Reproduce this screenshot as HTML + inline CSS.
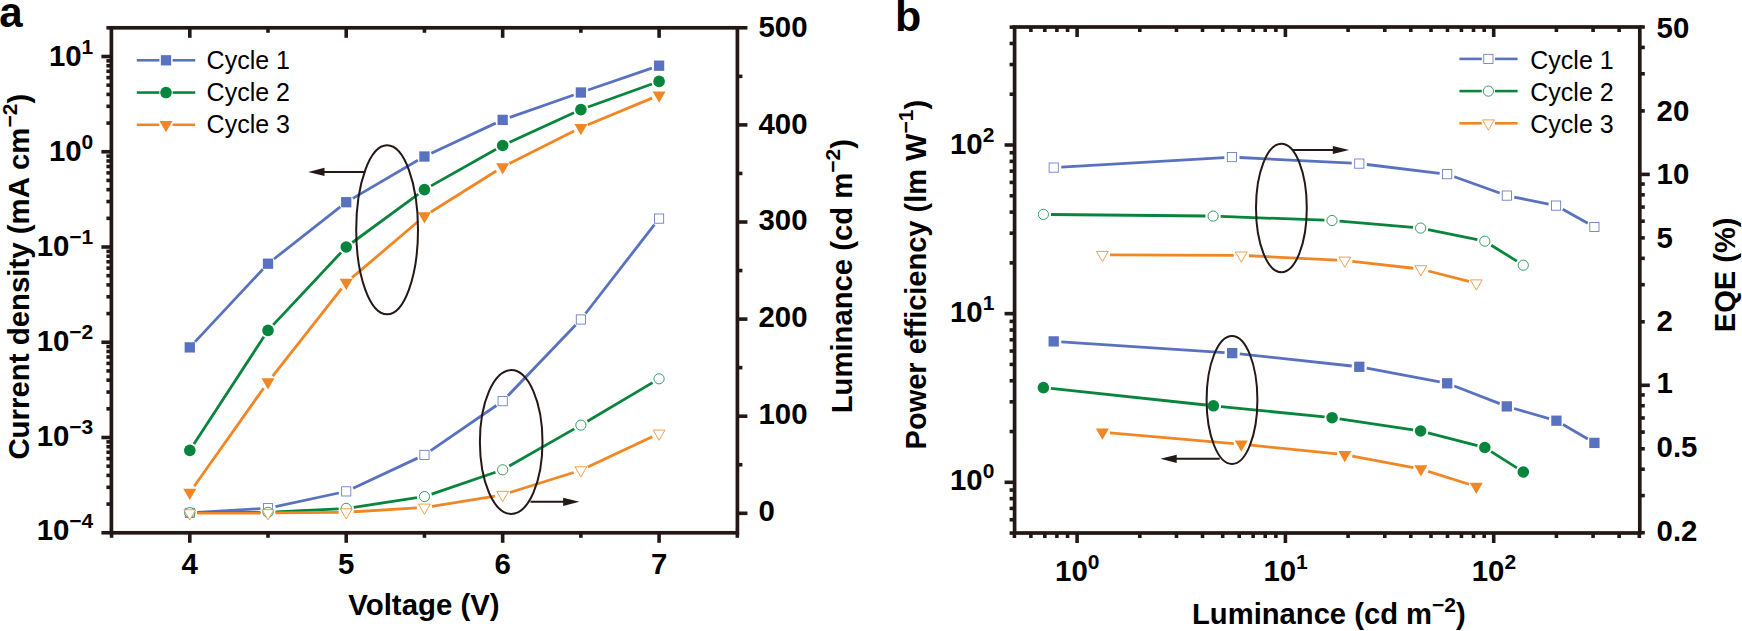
<!DOCTYPE html>
<html lang="en">
<head>
<meta charset="utf-8">
<title>Figure: current density, luminance, power efficiency and EQE over cycles</title>
<style>
html,body{margin:0;padding:0;background:#fff;}
body{width:1742px;height:631px;overflow:hidden;}
svg{display:block;font-family:"Liberation Sans",sans-serif;}
svg text{white-space:pre;}
</style>
</head>
<body>
<svg width="1742" height="631" viewBox="0 0 1742 631">
<rect width="1742" height="631" fill="#fff"/>
<g id="panel-a">
<path d="M194.99 341.85L262.83 269.25M273.99 259L340.26 206.9M352.79 198.37L417.88 160.33M431.33 153.28L495.78 123.12M509.83 117.39L573.7 95.01M588.06 90.04L651.9 68.16" fill="none" stroke="#5972bf" stroke-width="2.8"/>
<rect x="184.65" y="342.25" width="10.3" height="10.3" fill="#5972bf" stroke="none" stroke-width="0"/>
<rect x="262.87" y="258.55" width="10.3" height="10.3" fill="#5972bf" stroke="none" stroke-width="0"/>
<rect x="341.08" y="197.05" width="10.3" height="10.3" fill="#5972bf" stroke="none" stroke-width="0"/>
<rect x="419.3" y="151.35" width="10.3" height="10.3" fill="#5972bf" stroke="none" stroke-width="0"/>
<rect x="497.51" y="114.75" width="10.3" height="10.3" fill="#5972bf" stroke="none" stroke-width="0"/>
<rect x="575.73" y="87.35" width="10.3" height="10.3" fill="#5972bf" stroke="none" stroke-width="0"/>
<rect x="653.94" y="60.55" width="10.3" height="10.3" fill="#5972bf" stroke="none" stroke-width="0"/>
<path d="M197.39 512.44L260.43 508.66M275.45 506.6L338.8 493M353.12 488.19L417.56 458.11M430.71 450.6L496.39 405.5M507.92 395.71L575.62 324.99M585.53 313.49L654.43 224.61" fill="none" stroke="#5972bf" stroke-width="2.8"/>
<rect x="185.2" y="508.3" width="9.2" height="9.2" fill="#fff" stroke="#5972bf" stroke-width="0.8"/>
<rect x="263.41" y="503.6" width="9.2" height="9.2" fill="#fff" stroke="#5972bf" stroke-width="0.8"/>
<rect x="341.63" y="486.8" width="9.2" height="9.2" fill="#fff" stroke="#5972bf" stroke-width="0.8"/>
<rect x="419.85" y="450.3" width="9.2" height="9.2" fill="#fff" stroke="#5972bf" stroke-width="0.8"/>
<rect x="498.06" y="396.6" width="9.2" height="9.2" fill="#fff" stroke="#5972bf" stroke-width="0.8"/>
<rect x="576.27" y="314.9" width="9.2" height="9.2" fill="#fff" stroke="#5972bf" stroke-width="0.8"/>
<rect x="654.49" y="214" width="9.2" height="9.2" fill="#fff" stroke="#5972bf" stroke-width="0.8"/>
<path d="M193.95 444.03L263.87 336.77M273.21 324.86L341.03 252.54M352.36 242.5L418.32 194.1M431.07 185.87L496.04 149.23M509.57 142.33L573.97 112.77M588.02 107.02L651.94 83.98" fill="none" stroke="#08853c" stroke-width="2.8"/>
<circle cx="189.8" cy="450.4" r="5.8" fill="#08853c" stroke="none" stroke-width="0"/>
<circle cx="268.01" cy="330.4" r="5.8" fill="#08853c" stroke="none" stroke-width="0"/>
<circle cx="346.23" cy="247" r="5.8" fill="#08853c" stroke="none" stroke-width="0"/>
<circle cx="424.45" cy="189.6" r="5.8" fill="#08853c" stroke="none" stroke-width="0"/>
<circle cx="502.66" cy="145.5" r="5.8" fill="#08853c" stroke="none" stroke-width="0"/>
<circle cx="580.88" cy="109.6" r="5.8" fill="#08853c" stroke="none" stroke-width="0"/>
<circle cx="659.09" cy="81.4" r="5.8" fill="#08853c" stroke="none" stroke-width="0"/>
<path d="M197.4 512.66L260.42 512.34M275.61 511.92L338.64 508.78M353.74 507.27L416.93 497.73M431.63 494.14L495.47 472.26M509.26 466.03L574.28 428.87M587.42 421.23L652.55 382.67" fill="none" stroke="#08853c" stroke-width="2.8"/>
<circle cx="189.8" cy="512.7" r="5.1" fill="#fff" stroke="#08853c" stroke-width="0.8"/>
<circle cx="268.01" cy="512.3" r="5.1" fill="#fff" stroke="#08853c" stroke-width="0.8"/>
<circle cx="346.23" cy="508.4" r="5.1" fill="#fff" stroke="#08853c" stroke-width="0.8"/>
<circle cx="424.45" cy="496.6" r="5.1" fill="#fff" stroke="#08853c" stroke-width="0.8"/>
<circle cx="502.66" cy="469.8" r="5.1" fill="#fff" stroke="#08853c" stroke-width="0.8"/>
<circle cx="580.88" cy="425.1" r="5.1" fill="#fff" stroke="#08853c" stroke-width="0.8"/>
<circle cx="659.09" cy="378.8" r="5.1" fill="#fff" stroke="#08853c" stroke-width="0.8"/>
<path d="M194.19 486.3L263.62 388.2M272.71 376.03L341.53 288.57M352.02 277.68L418.65 221.02M430.88 212.06L496.22 171.04M509.45 163.59L574.08 131.11M587.89 124.78L652.07 98.12" fill="none" stroke="#f18624" stroke-width="2.8"/>
<polygon points="183.3,488.75 196.3,488.75 189.8,500.01" fill="#f18624" stroke="none" stroke-width="0" stroke-linejoin="miter"/>
<polygon points="261.51,378.25 274.51,378.25 268.01,389.51" fill="#f18624" stroke="none" stroke-width="0" stroke-linejoin="miter"/>
<polygon points="339.73,278.85 352.73,278.85 346.23,290.11" fill="#f18624" stroke="none" stroke-width="0" stroke-linejoin="miter"/>
<polygon points="417.95,212.35 430.95,212.35 424.45,223.61" fill="#f18624" stroke="none" stroke-width="0" stroke-linejoin="miter"/>
<polygon points="496.16,163.25 509.16,163.25 502.66,174.51" fill="#f18624" stroke="none" stroke-width="0" stroke-linejoin="miter"/>
<polygon points="574.38,123.95 587.38,123.95 580.88,135.21" fill="#f18624" stroke="none" stroke-width="0" stroke-linejoin="miter"/>
<polygon points="652.59,91.45 665.59,91.45 659.09,102.71" fill="#f18624" stroke="none" stroke-width="0" stroke-linejoin="miter"/>
<path d="M197.4 513.18L260.42 513.02M275.61 512.92L338.63 512.28M353.82 511.74L416.86 507.96M431.95 506.28L495.16 496.02M509.91 492.52L573.63 472.48M587.76 466.97L652.21 436.73" fill="none" stroke="#f18624" stroke-width="2.8"/>
<polygon points="183.9,509.79 195.7,509.79 189.8,520.01" fill="#fff" stroke="#f18624" stroke-width="0.8" stroke-linejoin="miter"/>
<polygon points="262.12,509.59 273.91,509.59 268.01,519.81" fill="#fff" stroke="#f18624" stroke-width="0.8" stroke-linejoin="miter"/>
<polygon points="340.33,508.79 352.13,508.79 346.23,519.01" fill="#fff" stroke="#f18624" stroke-width="0.8" stroke-linejoin="miter"/>
<polygon points="418.55,504.09 430.35,504.09 424.45,514.31" fill="#fff" stroke="#f18624" stroke-width="0.8" stroke-linejoin="miter"/>
<polygon points="496.76,491.39 508.56,491.39 502.66,501.61" fill="#fff" stroke="#f18624" stroke-width="0.8" stroke-linejoin="miter"/>
<polygon points="574.98,466.79 586.77,466.79 580.88,477.01" fill="#fff" stroke="#f18624" stroke-width="0.8" stroke-linejoin="miter"/>
<polygon points="653.19,430.09 664.99,430.09 659.09,440.31" fill="#fff" stroke="#f18624" stroke-width="0.8" stroke-linejoin="miter"/>
<ellipse cx="387.1" cy="229.8" rx="30.9" ry="84.5" fill="none" stroke="#231815" stroke-width="2"/>
<line x1="365" y1="171.9" x2="323.5" y2="171.9" stroke="#231815" stroke-width="2" stroke-linecap="butt"/>
<polygon points="308.2,171.9 324.5,167.8 324.5,176" fill="#231815"/>
<ellipse cx="511.2" cy="442" rx="31.3" ry="71.9" fill="none" stroke="#231815" stroke-width="2"/>
<line x1="530.5" y1="501.8" x2="564.1" y2="501.8" stroke="#231815" stroke-width="2" stroke-linecap="butt"/>
<polygon points="579.4,501.8 563.1,497.7 563.1,505.9" fill="#231815"/>
<rect x="111.4" y="27.8" width="626" height="505" fill="none" stroke="#231815" stroke-width="3.7"/>
<line x1="111.59" y1="532.8" x2="111.59" y2="537.8" stroke="#231815" stroke-width="3.6" stroke-linecap="butt"/>
<line x1="189.8" y1="532.8" x2="189.8" y2="542.8" stroke="#231815" stroke-width="3.6" stroke-linecap="butt"/>
<line x1="189.8" y1="27.8" x2="189.8" y2="37.8" stroke="#231815" stroke-width="3.6" stroke-linecap="butt"/>
<line x1="268.01" y1="532.8" x2="268.01" y2="537.8" stroke="#231815" stroke-width="3.6" stroke-linecap="butt"/>
<line x1="268.01" y1="27.8" x2="268.01" y2="32.8" stroke="#231815" stroke-width="3.6" stroke-linecap="butt"/>
<line x1="346.23" y1="532.8" x2="346.23" y2="542.8" stroke="#231815" stroke-width="3.6" stroke-linecap="butt"/>
<line x1="346.23" y1="27.8" x2="346.23" y2="37.8" stroke="#231815" stroke-width="3.6" stroke-linecap="butt"/>
<line x1="424.45" y1="532.8" x2="424.45" y2="537.8" stroke="#231815" stroke-width="3.6" stroke-linecap="butt"/>
<line x1="424.45" y1="27.8" x2="424.45" y2="32.8" stroke="#231815" stroke-width="3.6" stroke-linecap="butt"/>
<line x1="502.66" y1="532.8" x2="502.66" y2="542.8" stroke="#231815" stroke-width="3.6" stroke-linecap="butt"/>
<line x1="502.66" y1="27.8" x2="502.66" y2="37.8" stroke="#231815" stroke-width="3.6" stroke-linecap="butt"/>
<line x1="580.88" y1="532.8" x2="580.88" y2="537.8" stroke="#231815" stroke-width="3.6" stroke-linecap="butt"/>
<line x1="580.88" y1="27.8" x2="580.88" y2="32.8" stroke="#231815" stroke-width="3.6" stroke-linecap="butt"/>
<line x1="659.09" y1="532.8" x2="659.09" y2="542.8" stroke="#231815" stroke-width="3.6" stroke-linecap="butt"/>
<line x1="659.09" y1="27.8" x2="659.09" y2="37.8" stroke="#231815" stroke-width="3.6" stroke-linecap="butt"/>
<line x1="737.31" y1="532.8" x2="737.31" y2="537.8" stroke="#231815" stroke-width="3.6" stroke-linecap="butt"/>
<line x1="111.4" y1="532.75" x2="101.4" y2="532.75" stroke="#231815" stroke-width="3.6" stroke-linecap="butt"/>
<line x1="111.4" y1="504.08" x2="106.4" y2="504.08" stroke="#231815" stroke-width="3.6" stroke-linecap="butt"/>
<line x1="111.4" y1="487.3" x2="106.4" y2="487.3" stroke="#231815" stroke-width="3.6" stroke-linecap="butt"/>
<line x1="111.4" y1="475.4" x2="106.4" y2="475.4" stroke="#231815" stroke-width="3.6" stroke-linecap="butt"/>
<line x1="111.4" y1="466.17" x2="106.4" y2="466.17" stroke="#231815" stroke-width="3.6" stroke-linecap="butt"/>
<line x1="111.4" y1="458.63" x2="106.4" y2="458.63" stroke="#231815" stroke-width="3.6" stroke-linecap="butt"/>
<line x1="111.4" y1="452.25" x2="106.4" y2="452.25" stroke="#231815" stroke-width="3.6" stroke-linecap="butt"/>
<line x1="111.4" y1="446.73" x2="106.4" y2="446.73" stroke="#231815" stroke-width="3.6" stroke-linecap="butt"/>
<line x1="111.4" y1="441.86" x2="106.4" y2="441.86" stroke="#231815" stroke-width="3.6" stroke-linecap="butt"/>
<line x1="111.4" y1="437.5" x2="101.4" y2="437.5" stroke="#231815" stroke-width="3.6" stroke-linecap="butt"/>
<line x1="111.4" y1="408.83" x2="106.4" y2="408.83" stroke="#231815" stroke-width="3.6" stroke-linecap="butt"/>
<line x1="111.4" y1="392.05" x2="106.4" y2="392.05" stroke="#231815" stroke-width="3.6" stroke-linecap="butt"/>
<line x1="111.4" y1="380.15" x2="106.4" y2="380.15" stroke="#231815" stroke-width="3.6" stroke-linecap="butt"/>
<line x1="111.4" y1="370.92" x2="106.4" y2="370.92" stroke="#231815" stroke-width="3.6" stroke-linecap="butt"/>
<line x1="111.4" y1="363.38" x2="106.4" y2="363.38" stroke="#231815" stroke-width="3.6" stroke-linecap="butt"/>
<line x1="111.4" y1="357" x2="106.4" y2="357" stroke="#231815" stroke-width="3.6" stroke-linecap="butt"/>
<line x1="111.4" y1="351.48" x2="106.4" y2="351.48" stroke="#231815" stroke-width="3.6" stroke-linecap="butt"/>
<line x1="111.4" y1="346.61" x2="106.4" y2="346.61" stroke="#231815" stroke-width="3.6" stroke-linecap="butt"/>
<line x1="111.4" y1="342.25" x2="101.4" y2="342.25" stroke="#231815" stroke-width="3.6" stroke-linecap="butt"/>
<line x1="111.4" y1="313.58" x2="106.4" y2="313.58" stroke="#231815" stroke-width="3.6" stroke-linecap="butt"/>
<line x1="111.4" y1="296.8" x2="106.4" y2="296.8" stroke="#231815" stroke-width="3.6" stroke-linecap="butt"/>
<line x1="111.4" y1="284.9" x2="106.4" y2="284.9" stroke="#231815" stroke-width="3.6" stroke-linecap="butt"/>
<line x1="111.4" y1="275.67" x2="106.4" y2="275.67" stroke="#231815" stroke-width="3.6" stroke-linecap="butt"/>
<line x1="111.4" y1="268.13" x2="106.4" y2="268.13" stroke="#231815" stroke-width="3.6" stroke-linecap="butt"/>
<line x1="111.4" y1="261.75" x2="106.4" y2="261.75" stroke="#231815" stroke-width="3.6" stroke-linecap="butt"/>
<line x1="111.4" y1="256.23" x2="106.4" y2="256.23" stroke="#231815" stroke-width="3.6" stroke-linecap="butt"/>
<line x1="111.4" y1="251.36" x2="106.4" y2="251.36" stroke="#231815" stroke-width="3.6" stroke-linecap="butt"/>
<line x1="111.4" y1="247" x2="101.4" y2="247" stroke="#231815" stroke-width="3.6" stroke-linecap="butt"/>
<line x1="111.4" y1="218.33" x2="106.4" y2="218.33" stroke="#231815" stroke-width="3.6" stroke-linecap="butt"/>
<line x1="111.4" y1="201.55" x2="106.4" y2="201.55" stroke="#231815" stroke-width="3.6" stroke-linecap="butt"/>
<line x1="111.4" y1="189.65" x2="106.4" y2="189.65" stroke="#231815" stroke-width="3.6" stroke-linecap="butt"/>
<line x1="111.4" y1="180.42" x2="106.4" y2="180.42" stroke="#231815" stroke-width="3.6" stroke-linecap="butt"/>
<line x1="111.4" y1="172.88" x2="106.4" y2="172.88" stroke="#231815" stroke-width="3.6" stroke-linecap="butt"/>
<line x1="111.4" y1="166.5" x2="106.4" y2="166.5" stroke="#231815" stroke-width="3.6" stroke-linecap="butt"/>
<line x1="111.4" y1="160.98" x2="106.4" y2="160.98" stroke="#231815" stroke-width="3.6" stroke-linecap="butt"/>
<line x1="111.4" y1="156.11" x2="106.4" y2="156.11" stroke="#231815" stroke-width="3.6" stroke-linecap="butt"/>
<line x1="111.4" y1="151.75" x2="101.4" y2="151.75" stroke="#231815" stroke-width="3.6" stroke-linecap="butt"/>
<line x1="111.4" y1="123.08" x2="106.4" y2="123.08" stroke="#231815" stroke-width="3.6" stroke-linecap="butt"/>
<line x1="111.4" y1="106.3" x2="106.4" y2="106.3" stroke="#231815" stroke-width="3.6" stroke-linecap="butt"/>
<line x1="111.4" y1="94.4" x2="106.4" y2="94.4" stroke="#231815" stroke-width="3.6" stroke-linecap="butt"/>
<line x1="111.4" y1="85.17" x2="106.4" y2="85.17" stroke="#231815" stroke-width="3.6" stroke-linecap="butt"/>
<line x1="111.4" y1="77.63" x2="106.4" y2="77.63" stroke="#231815" stroke-width="3.6" stroke-linecap="butt"/>
<line x1="111.4" y1="71.25" x2="106.4" y2="71.25" stroke="#231815" stroke-width="3.6" stroke-linecap="butt"/>
<line x1="111.4" y1="65.73" x2="106.4" y2="65.73" stroke="#231815" stroke-width="3.6" stroke-linecap="butt"/>
<line x1="111.4" y1="60.86" x2="106.4" y2="60.86" stroke="#231815" stroke-width="3.6" stroke-linecap="butt"/>
<line x1="111.4" y1="56.5" x2="101.4" y2="56.5" stroke="#231815" stroke-width="3.6" stroke-linecap="butt"/>
<line x1="111.4" y1="27.83" x2="106.4" y2="27.83" stroke="#231815" stroke-width="3.6" stroke-linecap="butt"/>
<line x1="737.4" y1="513.3" x2="747.4" y2="513.3" stroke="#231815" stroke-width="3.6" stroke-linecap="butt"/>
<line x1="737.4" y1="464.75" x2="742.4" y2="464.75" stroke="#231815" stroke-width="3.6" stroke-linecap="butt"/>
<line x1="737.4" y1="416.2" x2="747.4" y2="416.2" stroke="#231815" stroke-width="3.6" stroke-linecap="butt"/>
<line x1="737.4" y1="367.65" x2="742.4" y2="367.65" stroke="#231815" stroke-width="3.6" stroke-linecap="butt"/>
<line x1="737.4" y1="319.1" x2="747.4" y2="319.1" stroke="#231815" stroke-width="3.6" stroke-linecap="butt"/>
<line x1="737.4" y1="270.55" x2="742.4" y2="270.55" stroke="#231815" stroke-width="3.6" stroke-linecap="butt"/>
<line x1="737.4" y1="222" x2="747.4" y2="222" stroke="#231815" stroke-width="3.6" stroke-linecap="butt"/>
<line x1="737.4" y1="173.45" x2="742.4" y2="173.45" stroke="#231815" stroke-width="3.6" stroke-linecap="butt"/>
<line x1="737.4" y1="124.9" x2="747.4" y2="124.9" stroke="#231815" stroke-width="3.6" stroke-linecap="butt"/>
<line x1="737.4" y1="76.35" x2="742.4" y2="76.35" stroke="#231815" stroke-width="3.6" stroke-linecap="butt"/>
<line x1="737.4" y1="27.8" x2="747.4" y2="27.8" stroke="#231815" stroke-width="3.6" stroke-linecap="butt"/>
<text x="93.3" y="540.4" font-size="29.4" text-anchor="end" font-weight="bold" fill="#000">10<tspan font-size="21.0" dy="-12">−4</tspan></text>
<text x="93.3" y="445.5" font-size="29.4" text-anchor="end" font-weight="bold" fill="#000">10<tspan font-size="21.0" dy="-12">−3</tspan></text>
<text x="93.3" y="350.6" font-size="29.4" text-anchor="end" font-weight="bold" fill="#000">10<tspan font-size="21.0" dy="-12">−2</tspan></text>
<text x="93.3" y="255.7" font-size="29.4" text-anchor="end" font-weight="bold" fill="#000">10<tspan font-size="21.0" dy="-12">−1</tspan></text>
<text x="93.3" y="160.8" font-size="29.4" text-anchor="end" font-weight="bold" fill="#000">10<tspan font-size="21.0" dy="-12">0</tspan></text>
<text x="93.3" y="65.9" font-size="29.4" text-anchor="end" font-weight="bold" fill="#000">10<tspan font-size="21.0" dy="-12">1</tspan></text>
<text x="189.8" y="574.1" font-size="29.4" text-anchor="middle" font-weight="bold" fill="#000">4</text>
<text x="346.23" y="574.1" font-size="29.4" text-anchor="middle" font-weight="bold" fill="#000">5</text>
<text x="502.66" y="574.1" font-size="29.4" text-anchor="middle" font-weight="bold" fill="#000">6</text>
<text x="659.09" y="574.1" font-size="29.4" text-anchor="middle" font-weight="bold" fill="#000">7</text>
<text x="758.5" y="520.5" font-size="29.4" text-anchor="start" font-weight="bold" fill="#000">0</text>
<text x="758.5" y="423.76" font-size="29.4" text-anchor="start" font-weight="bold" fill="#000">100</text>
<text x="758.5" y="327.02" font-size="29.4" text-anchor="start" font-weight="bold" fill="#000">200</text>
<text x="758.5" y="230.28" font-size="29.4" text-anchor="start" font-weight="bold" fill="#000">300</text>
<text x="758.5" y="133.54" font-size="29.4" text-anchor="start" font-weight="bold" fill="#000">400</text>
<text x="758.5" y="36.8" font-size="29.4" text-anchor="start" font-weight="bold" fill="#000">500</text>
<text x="424" y="615" font-size="29.4" text-anchor="middle" font-weight="bold" fill="#000">Voltage (V)</text>
<text x="29.3" y="276.7" font-size="29.4" text-anchor="middle" font-weight="bold" transform="rotate(-90 29.3 276.7)" fill="#000">Current density (mA cm<tspan font-size="21.0" dy="-12.4">−2</tspan><tspan dy="12.4">)</tspan></text>
<text x="852" y="276.2" font-size="29.25" text-anchor="middle" font-weight="bold" transform="rotate(-90 852 276.2)" fill="#000">Luminance (cd m<tspan font-size="21.0" dy="-12.4">−2</tspan><tspan dy="12.4">)</tspan></text>
<line x1="136.8" y1="60.3" x2="159.4" y2="60.3" stroke="#5972bf" stroke-width="2.6" stroke-linecap="butt"/>
<line x1="172.6" y1="60.3" x2="195.2" y2="60.3" stroke="#5972bf" stroke-width="2.6" stroke-linecap="butt"/>
<rect x="160.85" y="55.15" width="10.3" height="10.3" fill="#5972bf" stroke="none" stroke-width="0"/>
<text x="206.6" y="69.1" font-size="25" text-anchor="start" fill="#000">Cycle 1</text>
<line x1="136.8" y1="92.55" x2="159.4" y2="92.55" stroke="#08853c" stroke-width="2.6" stroke-linecap="butt"/>
<line x1="172.6" y1="92.55" x2="195.2" y2="92.55" stroke="#08853c" stroke-width="2.6" stroke-linecap="butt"/>
<circle cx="166" cy="92.55" r="5.8" fill="#08853c" stroke="none" stroke-width="0"/>
<text x="206.6" y="101.15" font-size="25" text-anchor="start" fill="#000">Cycle 2</text>
<line x1="136.8" y1="124.8" x2="159.4" y2="124.8" stroke="#f18624" stroke-width="2.6" stroke-linecap="butt"/>
<line x1="172.6" y1="124.8" x2="195.2" y2="124.8" stroke="#f18624" stroke-width="2.6" stroke-linecap="butt"/>
<polygon points="159.5,121.05 172.5,121.05 166,132.31" fill="#f18624" stroke="none" stroke-width="0" stroke-linejoin="miter"/>
<text x="206.6" y="133.2" font-size="25" text-anchor="start" fill="#000">Cycle 3</text>
<text x="-0.7" y="27.3" font-size="42" text-anchor="start" font-weight="bold" fill="#000">a</text>
</g>
<g id="panel-b">
<path d="M1061.29 167.15L1224.31 157.55M1239.49 157.49L1351.71 163.21M1366.85 164.51L1439.65 173.29M1454.35 176.77L1499.65 193.03M1514.25 197.11L1548.65 204.09M1562.73 209.31L1587.77 223.29" fill="none" stroke="#5972bf" stroke-width="2.8"/>
<rect x="1049.1" y="163" width="9.2" height="9.2" fill="#fff" stroke="#5972bf" stroke-width="0.8"/>
<rect x="1227.3" y="152.5" width="9.2" height="9.2" fill="#fff" stroke="#5972bf" stroke-width="0.8"/>
<rect x="1354.7" y="159" width="9.2" height="9.2" fill="#fff" stroke="#5972bf" stroke-width="0.8"/>
<rect x="1442.6" y="169.6" width="9.2" height="9.2" fill="#fff" stroke="#5972bf" stroke-width="0.8"/>
<rect x="1502.2" y="191" width="9.2" height="9.2" fill="#fff" stroke="#5972bf" stroke-width="0.8"/>
<rect x="1551.5" y="201" width="9.2" height="9.2" fill="#fff" stroke="#5972bf" stroke-width="0.8"/>
<rect x="1589.8" y="222.4" width="9.2" height="9.2" fill="#fff" stroke="#5972bf" stroke-width="0.8"/>
<path d="M1061.28 341.9L1224.62 352.6M1239.76 353.91L1351.74 365.99M1366.77 368.2L1439.73 381.9M1454.29 386.05L1499.71 403.65M1514.1 408.51L1549.1 418.59M1562.96 424.53L1587.84 439.07" fill="none" stroke="#5972bf" stroke-width="2.8"/>
<rect x="1048.55" y="336.25" width="10.3" height="10.3" fill="#5972bf" stroke="none" stroke-width="0"/>
<rect x="1227.05" y="347.95" width="10.3" height="10.3" fill="#5972bf" stroke="none" stroke-width="0"/>
<rect x="1354.15" y="361.65" width="10.3" height="10.3" fill="#5972bf" stroke="none" stroke-width="0"/>
<rect x="1442.05" y="378.15" width="10.3" height="10.3" fill="#5972bf" stroke="none" stroke-width="0"/>
<rect x="1501.65" y="401.25" width="10.3" height="10.3" fill="#5972bf" stroke="none" stroke-width="0"/>
<rect x="1551.25" y="415.55" width="10.3" height="10.3" fill="#5972bf" stroke="none" stroke-width="0"/>
<rect x="1589.25" y="437.75" width="10.3" height="10.3" fill="#5972bf" stroke="none" stroke-width="0"/>
<path d="M1051 214.48L1205.5 216.02M1220.69 216.38L1324.41 220.22M1339.57 221.15L1413.03 227.45M1428.05 229.62L1477.35 239.68M1491.25 245.22L1516.85 261.18" fill="none" stroke="#08853c" stroke-width="2.8"/>
<circle cx="1043.4" cy="214.4" r="5.1" fill="#fff" stroke="#08853c" stroke-width="0.8"/>
<circle cx="1213.1" cy="216.1" r="5.1" fill="#fff" stroke="#08853c" stroke-width="0.8"/>
<circle cx="1332" cy="220.5" r="5.1" fill="#fff" stroke="#08853c" stroke-width="0.8"/>
<circle cx="1420.6" cy="228.1" r="5.1" fill="#fff" stroke="#08853c" stroke-width="0.8"/>
<circle cx="1484.8" cy="241.2" r="5.1" fill="#fff" stroke="#08853c" stroke-width="0.8"/>
<circle cx="1523.3" cy="265.2" r="5.1" fill="#fff" stroke="#08853c" stroke-width="0.8"/>
<path d="M1050.96 388.41L1205.84 404.99M1220.96 406.56L1324.54 416.94M1339.62 418.83L1413.08 429.87M1427.96 432.89L1477.44 445.61M1491.21 451.58L1516.89 467.92" fill="none" stroke="#08853c" stroke-width="2.8"/>
<circle cx="1043.4" cy="387.6" r="5.8" fill="#08853c" stroke="none" stroke-width="0"/>
<circle cx="1213.4" cy="405.8" r="5.8" fill="#08853c" stroke="none" stroke-width="0"/>
<circle cx="1332.1" cy="417.7" r="5.8" fill="#08853c" stroke="none" stroke-width="0"/>
<circle cx="1420.6" cy="431" r="5.8" fill="#08853c" stroke="none" stroke-width="0"/>
<circle cx="1484.8" cy="447.5" r="5.8" fill="#08853c" stroke="none" stroke-width="0"/>
<circle cx="1523.3" cy="472" r="5.8" fill="#08853c" stroke="none" stroke-width="0"/>
<path d="M1110 254.83L1233.7 255.37M1248.89 255.77L1337.21 260.13M1352.35 261.35L1413.35 268.25M1428.26 270.99L1468.94 281.41" fill="none" stroke="#f18624" stroke-width="2.8"/>
<polygon points="1096.5,251.39 1108.3,251.39 1102.4,261.61" fill="#fff" stroke="#f18624" stroke-width="0.8" stroke-linejoin="miter"/>
<polygon points="1235.4,251.99 1247.2,251.99 1241.3,262.21" fill="#fff" stroke="#f18624" stroke-width="0.8" stroke-linejoin="miter"/>
<polygon points="1338.9,257.09 1350.7,257.09 1344.8,267.31" fill="#fff" stroke="#f18624" stroke-width="0.8" stroke-linejoin="miter"/>
<polygon points="1415,265.69 1426.8,265.69 1420.9,275.91" fill="#fff" stroke="#f18624" stroke-width="0.8" stroke-linejoin="miter"/>
<polygon points="1470.4,279.89 1482.2,279.89 1476.3,290.11" fill="#fff" stroke="#f18624" stroke-width="0.8" stroke-linejoin="miter"/>
<path d="M1109.97 432.85L1233.73 443.55M1248.86 444.97L1337.24 453.93M1352.27 456.1L1413.43 467.6M1428.15 471.29L1469.05 484.21" fill="none" stroke="#f18624" stroke-width="2.8"/>
<polygon points="1095.9,428.45 1108.9,428.45 1102.4,439.71" fill="#f18624" stroke="none" stroke-width="0" stroke-linejoin="miter"/>
<polygon points="1234.8,440.45 1247.8,440.45 1241.3,451.71" fill="#f18624" stroke="none" stroke-width="0" stroke-linejoin="miter"/>
<polygon points="1338.3,450.95 1351.3,450.95 1344.8,462.21" fill="#f18624" stroke="none" stroke-width="0" stroke-linejoin="miter"/>
<polygon points="1414.4,465.25 1427.4,465.25 1420.9,476.51" fill="#f18624" stroke="none" stroke-width="0" stroke-linejoin="miter"/>
<polygon points="1469.8,482.75 1482.8,482.75 1476.3,494.01" fill="#f18624" stroke="none" stroke-width="0" stroke-linejoin="miter"/>
<ellipse cx="1281.4" cy="208" rx="25.4" ry="64.2" fill="none" stroke="#231815" stroke-width="2"/>
<line x1="1293" y1="150" x2="1333.8" y2="150" stroke="#231815" stroke-width="2" stroke-linecap="butt"/>
<polygon points="1349.1,150 1332.8,145.9 1332.8,154.1" fill="#231815"/>
<ellipse cx="1232" cy="400" rx="25.4" ry="64" fill="none" stroke="#231815" stroke-width="2"/>
<line x1="1219.7" y1="458.8" x2="1175.7" y2="458.8" stroke="#231815" stroke-width="2" stroke-linecap="butt"/>
<polygon points="1160.4,458.8 1176.7,454.7 1176.7,462.9" fill="#231815"/>
<rect x="1014.6" y="27" width="625.2" height="506" fill="none" stroke="#231815" stroke-width="3.7"/>
<line x1="1014.4" y1="533" x2="1014.4" y2="538" stroke="#231815" stroke-width="3.6" stroke-linecap="butt"/>
<line x1="1030.89" y1="533" x2="1030.89" y2="538" stroke="#231815" stroke-width="3.6" stroke-linecap="butt"/>
<line x1="1030.89" y1="27" x2="1030.89" y2="32" stroke="#231815" stroke-width="3.6" stroke-linecap="butt"/>
<line x1="1044.83" y1="533" x2="1044.83" y2="538" stroke="#231815" stroke-width="3.6" stroke-linecap="butt"/>
<line x1="1044.83" y1="27" x2="1044.83" y2="32" stroke="#231815" stroke-width="3.6" stroke-linecap="butt"/>
<line x1="1056.91" y1="533" x2="1056.91" y2="538" stroke="#231815" stroke-width="3.6" stroke-linecap="butt"/>
<line x1="1056.91" y1="27" x2="1056.91" y2="32" stroke="#231815" stroke-width="3.6" stroke-linecap="butt"/>
<line x1="1067.57" y1="533" x2="1067.57" y2="538" stroke="#231815" stroke-width="3.6" stroke-linecap="butt"/>
<line x1="1067.57" y1="27" x2="1067.57" y2="32" stroke="#231815" stroke-width="3.6" stroke-linecap="butt"/>
<line x1="1077.1" y1="533" x2="1077.1" y2="543" stroke="#231815" stroke-width="3.6" stroke-linecap="butt"/>
<line x1="1077.1" y1="27" x2="1077.1" y2="37" stroke="#231815" stroke-width="3.6" stroke-linecap="butt"/>
<line x1="1139.8" y1="533" x2="1139.8" y2="538" stroke="#231815" stroke-width="3.6" stroke-linecap="butt"/>
<line x1="1139.8" y1="27" x2="1139.8" y2="32" stroke="#231815" stroke-width="3.6" stroke-linecap="butt"/>
<line x1="1176.48" y1="533" x2="1176.48" y2="538" stroke="#231815" stroke-width="3.6" stroke-linecap="butt"/>
<line x1="1176.48" y1="27" x2="1176.48" y2="32" stroke="#231815" stroke-width="3.6" stroke-linecap="butt"/>
<line x1="1202.51" y1="533" x2="1202.51" y2="538" stroke="#231815" stroke-width="3.6" stroke-linecap="butt"/>
<line x1="1202.51" y1="27" x2="1202.51" y2="32" stroke="#231815" stroke-width="3.6" stroke-linecap="butt"/>
<line x1="1222.7" y1="533" x2="1222.7" y2="538" stroke="#231815" stroke-width="3.6" stroke-linecap="butt"/>
<line x1="1222.7" y1="27" x2="1222.7" y2="32" stroke="#231815" stroke-width="3.6" stroke-linecap="butt"/>
<line x1="1239.19" y1="533" x2="1239.19" y2="538" stroke="#231815" stroke-width="3.6" stroke-linecap="butt"/>
<line x1="1239.19" y1="27" x2="1239.19" y2="32" stroke="#231815" stroke-width="3.6" stroke-linecap="butt"/>
<line x1="1253.13" y1="533" x2="1253.13" y2="538" stroke="#231815" stroke-width="3.6" stroke-linecap="butt"/>
<line x1="1253.13" y1="27" x2="1253.13" y2="32" stroke="#231815" stroke-width="3.6" stroke-linecap="butt"/>
<line x1="1265.21" y1="533" x2="1265.21" y2="538" stroke="#231815" stroke-width="3.6" stroke-linecap="butt"/>
<line x1="1265.21" y1="27" x2="1265.21" y2="32" stroke="#231815" stroke-width="3.6" stroke-linecap="butt"/>
<line x1="1275.87" y1="533" x2="1275.87" y2="538" stroke="#231815" stroke-width="3.6" stroke-linecap="butt"/>
<line x1="1275.87" y1="27" x2="1275.87" y2="32" stroke="#231815" stroke-width="3.6" stroke-linecap="butt"/>
<line x1="1285.4" y1="533" x2="1285.4" y2="543" stroke="#231815" stroke-width="3.6" stroke-linecap="butt"/>
<line x1="1285.4" y1="27" x2="1285.4" y2="37" stroke="#231815" stroke-width="3.6" stroke-linecap="butt"/>
<line x1="1348.1" y1="533" x2="1348.1" y2="538" stroke="#231815" stroke-width="3.6" stroke-linecap="butt"/>
<line x1="1348.1" y1="27" x2="1348.1" y2="32" stroke="#231815" stroke-width="3.6" stroke-linecap="butt"/>
<line x1="1384.78" y1="533" x2="1384.78" y2="538" stroke="#231815" stroke-width="3.6" stroke-linecap="butt"/>
<line x1="1384.78" y1="27" x2="1384.78" y2="32" stroke="#231815" stroke-width="3.6" stroke-linecap="butt"/>
<line x1="1410.81" y1="533" x2="1410.81" y2="538" stroke="#231815" stroke-width="3.6" stroke-linecap="butt"/>
<line x1="1410.81" y1="27" x2="1410.81" y2="32" stroke="#231815" stroke-width="3.6" stroke-linecap="butt"/>
<line x1="1431" y1="533" x2="1431" y2="538" stroke="#231815" stroke-width="3.6" stroke-linecap="butt"/>
<line x1="1431" y1="27" x2="1431" y2="32" stroke="#231815" stroke-width="3.6" stroke-linecap="butt"/>
<line x1="1447.49" y1="533" x2="1447.49" y2="538" stroke="#231815" stroke-width="3.6" stroke-linecap="butt"/>
<line x1="1447.49" y1="27" x2="1447.49" y2="32" stroke="#231815" stroke-width="3.6" stroke-linecap="butt"/>
<line x1="1461.43" y1="533" x2="1461.43" y2="538" stroke="#231815" stroke-width="3.6" stroke-linecap="butt"/>
<line x1="1461.43" y1="27" x2="1461.43" y2="32" stroke="#231815" stroke-width="3.6" stroke-linecap="butt"/>
<line x1="1473.51" y1="533" x2="1473.51" y2="538" stroke="#231815" stroke-width="3.6" stroke-linecap="butt"/>
<line x1="1473.51" y1="27" x2="1473.51" y2="32" stroke="#231815" stroke-width="3.6" stroke-linecap="butt"/>
<line x1="1484.17" y1="533" x2="1484.17" y2="538" stroke="#231815" stroke-width="3.6" stroke-linecap="butt"/>
<line x1="1484.17" y1="27" x2="1484.17" y2="32" stroke="#231815" stroke-width="3.6" stroke-linecap="butt"/>
<line x1="1493.7" y1="533" x2="1493.7" y2="543" stroke="#231815" stroke-width="3.6" stroke-linecap="butt"/>
<line x1="1493.7" y1="27" x2="1493.7" y2="37" stroke="#231815" stroke-width="3.6" stroke-linecap="butt"/>
<line x1="1556.4" y1="533" x2="1556.4" y2="538" stroke="#231815" stroke-width="3.6" stroke-linecap="butt"/>
<line x1="1556.4" y1="27" x2="1556.4" y2="32" stroke="#231815" stroke-width="3.6" stroke-linecap="butt"/>
<line x1="1593.08" y1="533" x2="1593.08" y2="538" stroke="#231815" stroke-width="3.6" stroke-linecap="butt"/>
<line x1="1593.08" y1="27" x2="1593.08" y2="32" stroke="#231815" stroke-width="3.6" stroke-linecap="butt"/>
<line x1="1619.11" y1="533" x2="1619.11" y2="538" stroke="#231815" stroke-width="3.6" stroke-linecap="butt"/>
<line x1="1619.11" y1="27" x2="1619.11" y2="32" stroke="#231815" stroke-width="3.6" stroke-linecap="butt"/>
<line x1="1639.3" y1="533" x2="1639.3" y2="538" stroke="#231815" stroke-width="3.6" stroke-linecap="butt"/>
<line x1="1014.6" y1="533.07" x2="1009.6" y2="533.07" stroke="#231815" stroke-width="3.6" stroke-linecap="butt"/>
<line x1="1014.6" y1="519.71" x2="1009.6" y2="519.71" stroke="#231815" stroke-width="3.6" stroke-linecap="butt"/>
<line x1="1014.6" y1="508.42" x2="1009.6" y2="508.42" stroke="#231815" stroke-width="3.6" stroke-linecap="butt"/>
<line x1="1014.6" y1="498.64" x2="1009.6" y2="498.64" stroke="#231815" stroke-width="3.6" stroke-linecap="butt"/>
<line x1="1014.6" y1="490.02" x2="1009.6" y2="490.02" stroke="#231815" stroke-width="3.6" stroke-linecap="butt"/>
<line x1="1014.6" y1="482.3" x2="1004.6" y2="482.3" stroke="#231815" stroke-width="3.6" stroke-linecap="butt"/>
<line x1="1014.6" y1="431.53" x2="1009.6" y2="431.53" stroke="#231815" stroke-width="3.6" stroke-linecap="butt"/>
<line x1="1014.6" y1="401.83" x2="1009.6" y2="401.83" stroke="#231815" stroke-width="3.6" stroke-linecap="butt"/>
<line x1="1014.6" y1="380.76" x2="1009.6" y2="380.76" stroke="#231815" stroke-width="3.6" stroke-linecap="butt"/>
<line x1="1014.6" y1="364.42" x2="1009.6" y2="364.42" stroke="#231815" stroke-width="3.6" stroke-linecap="butt"/>
<line x1="1014.6" y1="351.06" x2="1009.6" y2="351.06" stroke="#231815" stroke-width="3.6" stroke-linecap="butt"/>
<line x1="1014.6" y1="339.77" x2="1009.6" y2="339.77" stroke="#231815" stroke-width="3.6" stroke-linecap="butt"/>
<line x1="1014.6" y1="329.99" x2="1009.6" y2="329.99" stroke="#231815" stroke-width="3.6" stroke-linecap="butt"/>
<line x1="1014.6" y1="321.37" x2="1009.6" y2="321.37" stroke="#231815" stroke-width="3.6" stroke-linecap="butt"/>
<line x1="1014.6" y1="313.65" x2="1004.6" y2="313.65" stroke="#231815" stroke-width="3.6" stroke-linecap="butt"/>
<line x1="1014.6" y1="262.88" x2="1009.6" y2="262.88" stroke="#231815" stroke-width="3.6" stroke-linecap="butt"/>
<line x1="1014.6" y1="233.18" x2="1009.6" y2="233.18" stroke="#231815" stroke-width="3.6" stroke-linecap="butt"/>
<line x1="1014.6" y1="212.11" x2="1009.6" y2="212.11" stroke="#231815" stroke-width="3.6" stroke-linecap="butt"/>
<line x1="1014.6" y1="195.77" x2="1009.6" y2="195.77" stroke="#231815" stroke-width="3.6" stroke-linecap="butt"/>
<line x1="1014.6" y1="182.41" x2="1009.6" y2="182.41" stroke="#231815" stroke-width="3.6" stroke-linecap="butt"/>
<line x1="1014.6" y1="171.12" x2="1009.6" y2="171.12" stroke="#231815" stroke-width="3.6" stroke-linecap="butt"/>
<line x1="1014.6" y1="161.34" x2="1009.6" y2="161.34" stroke="#231815" stroke-width="3.6" stroke-linecap="butt"/>
<line x1="1014.6" y1="152.72" x2="1009.6" y2="152.72" stroke="#231815" stroke-width="3.6" stroke-linecap="butt"/>
<line x1="1014.6" y1="145" x2="1004.6" y2="145" stroke="#231815" stroke-width="3.6" stroke-linecap="butt"/>
<line x1="1014.6" y1="94.23" x2="1009.6" y2="94.23" stroke="#231815" stroke-width="3.6" stroke-linecap="butt"/>
<line x1="1014.6" y1="64.53" x2="1009.6" y2="64.53" stroke="#231815" stroke-width="3.6" stroke-linecap="butt"/>
<line x1="1014.6" y1="43.46" x2="1009.6" y2="43.46" stroke="#231815" stroke-width="3.6" stroke-linecap="butt"/>
<line x1="1014.6" y1="27.12" x2="1009.6" y2="27.12" stroke="#231815" stroke-width="3.6" stroke-linecap="butt"/>
<line x1="1639.8" y1="532.71" x2="1644.8" y2="532.71" stroke="#231815" stroke-width="3.6" stroke-linecap="butt"/>
<line x1="1639.8" y1="495.58" x2="1644.8" y2="495.58" stroke="#231815" stroke-width="3.6" stroke-linecap="butt"/>
<line x1="1639.8" y1="469.23" x2="1644.8" y2="469.23" stroke="#231815" stroke-width="3.6" stroke-linecap="butt"/>
<line x1="1639.8" y1="448.79" x2="1644.8" y2="448.79" stroke="#231815" stroke-width="3.6" stroke-linecap="butt"/>
<line x1="1639.8" y1="432.09" x2="1644.8" y2="432.09" stroke="#231815" stroke-width="3.6" stroke-linecap="butt"/>
<line x1="1639.8" y1="417.97" x2="1644.8" y2="417.97" stroke="#231815" stroke-width="3.6" stroke-linecap="butt"/>
<line x1="1639.8" y1="405.74" x2="1644.8" y2="405.74" stroke="#231815" stroke-width="3.6" stroke-linecap="butt"/>
<line x1="1639.8" y1="394.95" x2="1644.8" y2="394.95" stroke="#231815" stroke-width="3.6" stroke-linecap="butt"/>
<line x1="1639.8" y1="385.3" x2="1649.8" y2="385.3" stroke="#231815" stroke-width="3.6" stroke-linecap="butt"/>
<line x1="1639.8" y1="321.81" x2="1644.8" y2="321.81" stroke="#231815" stroke-width="3.6" stroke-linecap="butt"/>
<line x1="1639.8" y1="284.68" x2="1644.8" y2="284.68" stroke="#231815" stroke-width="3.6" stroke-linecap="butt"/>
<line x1="1639.8" y1="258.33" x2="1644.8" y2="258.33" stroke="#231815" stroke-width="3.6" stroke-linecap="butt"/>
<line x1="1639.8" y1="237.89" x2="1644.8" y2="237.89" stroke="#231815" stroke-width="3.6" stroke-linecap="butt"/>
<line x1="1639.8" y1="221.19" x2="1644.8" y2="221.19" stroke="#231815" stroke-width="3.6" stroke-linecap="butt"/>
<line x1="1639.8" y1="207.07" x2="1644.8" y2="207.07" stroke="#231815" stroke-width="3.6" stroke-linecap="butt"/>
<line x1="1639.8" y1="194.84" x2="1644.8" y2="194.84" stroke="#231815" stroke-width="3.6" stroke-linecap="butt"/>
<line x1="1639.8" y1="184.05" x2="1644.8" y2="184.05" stroke="#231815" stroke-width="3.6" stroke-linecap="butt"/>
<line x1="1639.8" y1="174.4" x2="1649.8" y2="174.4" stroke="#231815" stroke-width="3.6" stroke-linecap="butt"/>
<line x1="1639.8" y1="110.91" x2="1644.8" y2="110.91" stroke="#231815" stroke-width="3.6" stroke-linecap="butt"/>
<line x1="1639.8" y1="73.78" x2="1644.8" y2="73.78" stroke="#231815" stroke-width="3.6" stroke-linecap="butt"/>
<line x1="1639.8" y1="47.43" x2="1644.8" y2="47.43" stroke="#231815" stroke-width="3.6" stroke-linecap="butt"/>
<line x1="1639.8" y1="26.99" x2="1644.8" y2="26.99" stroke="#231815" stroke-width="3.6" stroke-linecap="butt"/>
<text x="994.4" y="489.5" font-size="29.4" text-anchor="end" font-weight="bold" fill="#000">10<tspan font-size="21.0" dy="-12">0</tspan></text>
<text x="1077.3" y="580.9" font-size="29.4" text-anchor="middle" font-weight="bold" fill="#000">10<tspan font-size="21.0" dy="-12">0</tspan></text>
<text x="994.4" y="321.9" font-size="29.4" text-anchor="end" font-weight="bold" fill="#000">10<tspan font-size="21.0" dy="-12">1</tspan></text>
<text x="1285.6" y="580.9" font-size="29.4" text-anchor="middle" font-weight="bold" fill="#000">10<tspan font-size="21.0" dy="-12">1</tspan></text>
<text x="994.4" y="154.3" font-size="29.4" text-anchor="end" font-weight="bold" fill="#000">10<tspan font-size="21.0" dy="-12">2</tspan></text>
<text x="1493.9" y="580.9" font-size="29.4" text-anchor="middle" font-weight="bold" fill="#000">10<tspan font-size="21.0" dy="-12">2</tspan></text>
<text x="1656.6" y="38" font-size="29.4" text-anchor="start" font-weight="bold" fill="#000">50</text>
<text x="1656.6" y="120.9" font-size="29.4" text-anchor="start" font-weight="bold" fill="#000">20</text>
<text x="1656.6" y="184" font-size="29.4" text-anchor="start" font-weight="bold" fill="#000">10</text>
<text x="1656.6" y="247.8" font-size="29.4" text-anchor="start" font-weight="bold" fill="#000">5</text>
<text x="1656.6" y="331" font-size="29.4" text-anchor="start" font-weight="bold" fill="#000">2</text>
<text x="1656.6" y="392.8" font-size="29.4" text-anchor="start" font-weight="bold" fill="#000">1</text>
<text x="1656.6" y="457.2" font-size="29.4" text-anchor="start" font-weight="bold" fill="#000">0.5</text>
<text x="1656.6" y="540.6" font-size="29.4" text-anchor="start" font-weight="bold" fill="#000">0.2</text>
<text x="1328.9" y="624.3" font-size="29.2" text-anchor="middle" font-weight="bold" fill="#000">Luminance (cd m<tspan font-size="21.0" dy="-12.4">−2</tspan><tspan dy="12.4">)</tspan></text>
<text x="925.8" y="274.65" font-size="29" text-anchor="middle" font-weight="bold" transform="rotate(-90 925.8 274.65)" fill="#000">Power efficiency (lm W<tspan font-size="21.0" dy="-12.4">−1</tspan><tspan dy="12.4">)</tspan></text>
<text x="1735.3" y="274.85" font-size="29.1" text-anchor="middle" font-weight="bold" transform="rotate(-90 1735.3 274.85)" fill="#000">EQE (%)</text>
<line x1="1459.4" y1="58.9" x2="1481.8" y2="58.9" stroke="#5972bf" stroke-width="2.6" stroke-linecap="butt"/>
<line x1="1495" y1="58.9" x2="1517.6" y2="58.9" stroke="#5972bf" stroke-width="2.6" stroke-linecap="butt"/>
<rect x="1483.8" y="54.3" width="9.2" height="9.2" fill="#fff" stroke="#5972bf" stroke-width="0.8"/>
<text x="1530.3" y="68.6" font-size="25" text-anchor="start" fill="#000">Cycle 1</text>
<line x1="1459.4" y1="91.1" x2="1481.8" y2="91.1" stroke="#08853c" stroke-width="2.6" stroke-linecap="butt"/>
<line x1="1495" y1="91.1" x2="1517.6" y2="91.1" stroke="#08853c" stroke-width="2.6" stroke-linecap="butt"/>
<circle cx="1488.4" cy="91.1" r="5.1" fill="#fff" stroke="#08853c" stroke-width="0.8"/>
<text x="1530.3" y="100.65" font-size="25" text-anchor="start" fill="#000">Cycle 2</text>
<line x1="1459.4" y1="123.3" x2="1481.8" y2="123.3" stroke="#f18624" stroke-width="2.6" stroke-linecap="butt"/>
<line x1="1495" y1="123.3" x2="1517.6" y2="123.3" stroke="#f18624" stroke-width="2.6" stroke-linecap="butt"/>
<polygon points="1482.5,119.89 1494.3,119.89 1488.4,130.11" fill="#fff" stroke="#f18624" stroke-width="0.8" stroke-linejoin="miter"/>
<text x="1530.3" y="132.7" font-size="25" text-anchor="start" fill="#000">Cycle 3</text>
<text x="895" y="30.6" font-size="43" text-anchor="start" font-weight="bold" fill="#000">b</text>
</g>
</svg>
</body>
</html>
